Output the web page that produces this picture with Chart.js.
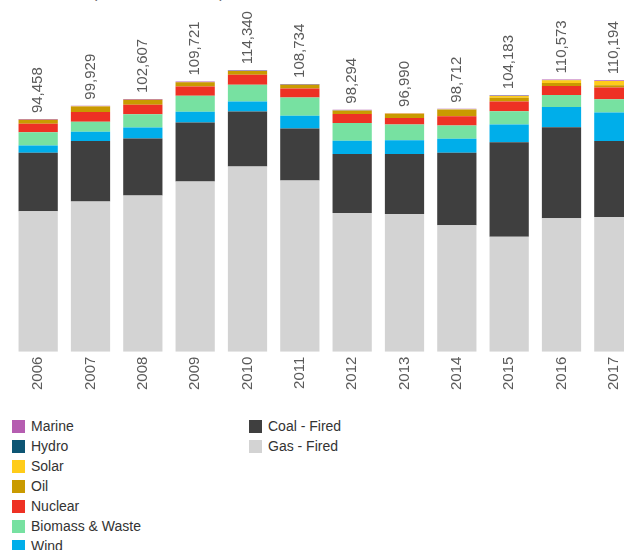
<!DOCTYPE html>
<html>
<head>
<meta charset="utf-8">
<title>Electricity generation by fuel type</title>
<script src="https://cdn.jsdelivr.net/npm/chart.js@4.4.1/dist/chart.umd.min.js"></script>
<style>
  html, body { margin: 0; padding: 0; width: 624px; height: 550px; overflow: hidden; background: #fff; }
  #wrap { position: relative; width: 624px; height: 550px; overflow: hidden; }
  #title { position: absolute; left: 92px; top: -15px; font: 16px/16px "Liberation Sans", Arial, sans-serif; color: #666; white-space: nowrap; }
  #chart { position: absolute; left: 0; top: 0; }
  #legend { position: absolute; left: 12px; top: 420px; display: grid; grid-auto-flow: column;
            grid-template-rows: repeat(7, 20px); grid-template-columns: 237px auto;
            font: 14px "Liberation Sans", Arial, sans-serif; color: #333; }
  .item { display: flex; align-items: flex-start; height: 20px; white-space: nowrap; }
  .box { width: 13px; height: 13px; margin-right: 6px; flex: none; }
  .item .label { line-height: 13px; }
</style>
</head>
<body>
<div id="wrap">
  <div id="title">(GWh, 2006-2017)</div>
  <canvas id="chart" width="660" height="400"></canvas>
  <div id="legend"></div>
</div>
<script>
// Annual generation by fuel type, GWh
const years = ['2006', '2007', '2008', '2009', '2010', '2011', '2012', '2013', '2014', '2015', '2016', '2017'];

const gasFired  = [57048, 60954, 63407, 69141, 75250, 69514, 56314, 55920, 51372, 46713, 54193, 54654];
const coalFired = [23700, 24600, 23150, 23980, 22340, 21140, 23990, 24390, 29420, 38370, 37000, 30890];
const wind      = [3000, 3800, 4470, 4310, 4060, 5120, 5400, 5530, 5690, 7150, 8160, 11550];
const biomass   = [5400, 4060, 5400, 6500, 6780, 7480, 7200, 6380, 5400, 5450, 4900, 5430];
const nuclear   = [3400, 3900, 3850, 3820, 4060, 3660, 3660, 2720, 3780, 3900, 3670, 4770];
const oil       = [1600, 2300, 2000, 1630, 1500, 1460, 1340, 1620, 2450, 1600, 1250, 900];
const solar     = [20, 25, 30, 40, 50, 60, 90, 130, 300, 700, 1100, 1700];
const hydro     = [50, 50, 50, 50, 50, 50, 50, 50, 50, 50, 50, 50];
const marine    = [240, 240, 250, 250, 250, 250, 250, 250, 250, 250, 250, 250];

const FONT = '"Liberation Sans", Arial, sans-serif';
const TEXT_GREY = '#5a5a5a';

// Stack order, bottom to top
const series = [
  { label: 'Gas - Fired',     data: gasFired,  color: '#d3d3d3' },
  { label: 'Coal - Fired',    data: coalFired, color: '#3f3f3f' },
  { label: 'Wind',            data: wind,      color: '#00aeea' },
  { label: 'Biomass & Waste', data: biomass,   color: '#77e1a1' },
  { label: 'Nuclear',         data: nuclear,   color: '#ee3124' },
  { label: 'Oil',             data: oil,       color: '#c99a00' },
  { label: 'Solar',           data: solar,     color: '#ffcc1a' },
  { label: 'Hydro',           data: hydro,     color: '#0d5573' },
  { label: 'Marine',          data: marine,    color: '#b55db0' }
];

// Writes the stack total above each column, rotated to read upwards
const stackTotals = {
  id: 'stackTotals',
  afterDatasetsDraw(chart) {
    const { ctx, scales: { x, y } } = chart;
    ctx.save();
    ctx.font = '15px ' + FONT;
    ctx.fillStyle = TEXT_GREY;
    ctx.textAlign = 'left';
    ctx.textBaseline = 'middle';
    chart.data.labels.forEach((_, i) => {
      const total = chart.data.datasets.reduce((s, d) => s + d.data[i], 0);
      const px = x.getPixelForValue(i);
      const py = y.getPixelForValue(total);
      ctx.save();
      ctx.translate(px, py - 6);
      ctx.rotate(-Math.PI / 2);
      ctx.fillText(total.toLocaleString('en-US'), 0, 0);
      ctx.restore();
    });
    ctx.restore();
  }
};

const chart = new Chart(document.getElementById('chart'), {
  type: 'bar',
  data: {
    labels: years,
    datasets: series.map(s => ({
      label: s.label,
      data: s.data,
      backgroundColor: s.color,
      borderWidth: 0,
      categoryPercentage: 1,
      barPercentage: 0.75
    }))
  },
  options: {
    responsive: false,
    animation: false,
    layout: { padding: { left: 12, right: 20, top: 7, bottom: 5 } },
    plugins: { legend: { display: false }, tooltip: { enabled: false } },
    scales: {
      x: {
        stacked: true,
        grid: { display: false, drawTicks: false },
        border: { display: false },
        ticks: {
          color: TEXT_GREY,
          font: { size: 15, family: FONT },
          minRotation: 90,
          maxRotation: 90,
          padding: 5,
          autoSkip: false
        }
      },
      y: { stacked: true, display: false, min: 0, max: 140000 }
    }
  },
  plugins: [stackTotals]
});

// Legend in columns, top of stack first
const legend = document.getElementById('legend');
chart.data.datasets.slice().reverse().forEach(ds => {
  const item = document.createElement('div');
  item.className = 'item';
  const box = document.createElement('span');
  box.className = 'box';
  box.style.background = ds.backgroundColor;
  const label = document.createElement('span');
  label.className = 'label';
  label.textContent = ds.label;
  item.appendChild(box);
  item.appendChild(label);
  legend.appendChild(item);
});
</script>
</body>
</html>
